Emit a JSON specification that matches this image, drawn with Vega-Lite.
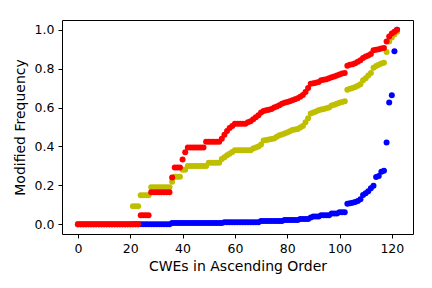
{
"$schema": "https://vega.github.io/schema/vega-lite/v6.json",
"width": 351, "height": 214,
"autosize": {"type": "none"},
"padding": {"left": 62, "top": 20, "right": 19, "bottom": 54},
"background": "white",
"data": {"values": [
{"i":0,"r":0,"y":0,"b":0},{"i":1,"r":0,"y":0,"b":0},{"i":2,"r":0,"y":0,"b":0},{"i":3,"r":0,"y":0,"b":0},{"i":4,"r":0,"y":0,"b":0},
{"i":5,"r":0,"y":0,"b":0},{"i":6,"r":0,"y":0,"b":0},{"i":7,"r":0,"y":0,"b":0},{"i":8,"r":0,"y":0,"b":0},{"i":9,"r":0,"y":0,"b":0},
{"i":10,"r":0,"y":0,"b":0},{"i":11,"r":0,"y":0,"b":0},{"i":12,"r":0,"y":0,"b":0},{"i":13,"r":0,"y":0,"b":0},{"i":14,"r":0,"y":0,"b":0},
{"i":15,"r":0,"y":0,"b":0},{"i":16,"r":0,"y":0,"b":0},{"i":17,"r":0,"y":0,"b":0},{"i":18,"r":0,"y":0,"b":0},{"i":19,"r":0,"y":0,"b":0},
{"i":20,"r":0,"y":0,"b":0},{"i":21,"r":0,"y":0.092,"b":0},{"i":22,"r":0,"y":0.092,"b":0},{"i":23,"r":0,"y":0.092,"b":0},
{"i":24,"r":0.047,"y":0.149,"b":0},{"i":25,"r":0.047,"y":0.149,"b":0},{"i":26,"r":0.047,"y":0.149,"b":0},{"i":27,"r":0.047,"y":0.149,"b":0},
{"i":28,"r":0.165,"y":0.19,"b":0},{"i":29,"r":0.165,"y":0.19,"b":0},{"i":30,"r":0.165,"y":0.19,"b":0},{"i":31,"r":0.165,"y":0.19,"b":0},
{"i":32,"r":0.165,"y":0.19,"b":0},{"i":33,"r":0.165,"y":0.19,"b":0},{"i":34,"r":0.165,"y":0.19,"b":0},{"i":35,"r":0.165,"y":0.19,"b":0},
{"i":36,"r":0.24,"y":0.218,"b":0.006},{"i":37,"r":0.292,"y":0.244,"b":0.006},{"i":38,"r":0.292,"y":0.244,"b":0.006},{"i":39,"r":0.292,"y":0.244,"b":0.006},
{"i":40,"r":0.333,"y":0.28,"b":0.006},{"i":41,"r":0.37,"y":0.28,"b":0.006},
{"i":42,"r":0.395,"y":0.3,"b":0.006},{"i":43,"r":0.395,"y":0.3,"b":0.006},{"i":44,"r":0.395,"y":0.3,"b":0.006},{"i":45,"r":0.395,"y":0.3,"b":0.006},
{"i":46,"r":0.395,"y":0.3,"b":0.006},{"i":47,"r":0.395,"y":0.3,"b":0.006},{"i":48,"r":0.395,"y":0.3,"b":0.006},{"i":49,"r":0.424,"y":0.3,"b":0.006},
{"i":50,"r":0.424,"y":0.316,"b":0.006},{"i":51,"r":0.424,"y":0.316,"b":0.006},{"i":52,"r":0.424,"y":0.316,"b":0.006},{"i":53,"r":0.424,"y":0.316,"b":0.006},
{"i":54,"r":0.424,"y":0.316,"b":0.006},{"i":55,"r":0.44,"y":0.335,"b":0.006},{"i":56,"r":0.46,"y":0.345,"b":0.011},{"i":57,"r":0.48,"y":0.355,"b":0.011},
{"i":58,"r":0.495,"y":0.363,"b":0.011},{"i":59,"r":0.505,"y":0.372,"b":0.011},
{"i":60,"r":0.517,"y":0.381,"b":0.011},{"i":61,"r":0.517,"y":0.381,"b":0.011},{"i":62,"r":0.517,"y":0.381,"b":0.011},{"i":63,"r":0.517,"y":0.381,"b":0.011},
{"i":64,"r":0.517,"y":0.381,"b":0.011},{"i":65,"r":0.525,"y":0.381,"b":0.011},{"i":66,"r":0.53,"y":0.381,"b":0.011},{"i":67,"r":0.54,"y":0.39,"b":0.011},
{"i":68,"r":0.55,"y":0.395,"b":0.011},{"i":69,"r":0.56,"y":0.4,"b":0.011},
{"i":70,"r":0.575,"y":0.41,"b":0.017},{"i":71,"r":0.582,"y":0.43,"b":0.017},{"i":72,"r":0.586,"y":0.433,"b":0.017},{"i":73,"r":0.589,"y":0.436,"b":0.017},
{"i":74,"r":0.592,"y":0.438,"b":0.017},{"i":75,"r":0.6,"y":0.441,"b":0.017},{"i":76,"r":0.605,"y":0.45,"b":0.017},{"i":77,"r":0.612,"y":0.458,"b":0.017},
{"i":78,"r":0.62,"y":0.462,"b":0.017},{"i":79,"r":0.625,"y":0.466,"b":0.022},
{"i":80,"r":0.628,"y":0.472,"b":0.022},{"i":81,"r":0.632,"y":0.478,"b":0.022},{"i":82,"r":0.638,"y":0.484,"b":0.022},{"i":83,"r":0.643,"y":0.487,"b":0.022},
{"i":84,"r":0.648,"y":0.49,"b":0.022},{"i":85,"r":0.655,"y":0.497,"b":0.027},{"i":86,"r":0.665,"y":0.505,"b":0.027},{"i":87,"r":0.68,"y":0.525,"b":0.027},
{"i":88,"r":0.7,"y":0.545,"b":0.027},{"i":89,"r":0.722,"y":0.569,"b":0.035},
{"i":90,"r":0.725,"y":0.575,"b":0.04},{"i":91,"r":0.728,"y":0.58,"b":0.04},{"i":92,"r":0.731,"y":0.586,"b":0.04},{"i":93,"r":0.74,"y":0.59,"b":0.046},
{"i":94,"r":0.743,"y":0.593,"b":0.046},{"i":95,"r":0.746,"y":0.596,"b":0.046},{"i":96,"r":0.75,"y":0.6,"b":0.046},{"i":97,"r":0.756,"y":0.61,"b":0.055},
{"i":98,"r":0.76,"y":0.615,"b":0.055},{"i":99,"r":0.765,"y":0.62,"b":0.055},
{"i":100,"r":0.77,"y":0.625,"b":0.062},{"i":101,"r":0.775,"y":0.628,"b":0.062},{"i":102,"r":0.778,"y":0.632,"b":0.062},{"i":103,"r":0.815,"y":0.692,"b":0.105},
{"i":104,"r":0.82,"y":0.697,"b":0.108},{"i":105,"r":0.823,"y":0.7,"b":0.11},{"i":106,"r":0.828,"y":0.705,"b":0.115},{"i":107,"r":0.835,"y":0.712,"b":0.12},
{"i":108,"r":0.843,"y":0.72,"b":0.128},{"i":109,"r":0.855,"y":0.74,"b":0.15},
{"i":110,"r":0.862,"y":0.75,"b":0.16},{"i":111,"r":0.868,"y":0.765,"b":0.17},{"i":112,"r":0.875,"y":0.778,"b":0.185},{"i":113,"r":0.895,"y":0.805,"b":0.198},
{"i":114,"r":0.897,"y":0.813,"b":0.243},{"i":115,"r":0.9,"y":0.82,"b":0.248},{"i":116,"r":0.903,"y":0.826,"b":0.27},{"i":117,"r":0.906,"y":0.83,"b":0.275},
{"i":118,"r":0.94,"y":0.885,"b":0.42},{"i":119,"r":0.965,"y":0.94,"b":0.626},
{"i":120,"r":0.98,"y":0.96,"b":0.663},{"i":121,"r":0.99,"y":0.975,"b":0.889},{"i":122,"r":1.0,"y":0.99,"b":1.0}
]},
"encoding": {
  "x": {"field": "i", "type": "quantitative",
        "scale": {"domain": [-6.1, 128.1], "nice": false, "zero": false},
        "axis": {"values": [0, 20, 40, 60, 80, 100, 120], "title": "CWEs in Ascending Order", "titlePadding": 5}}
},
"layer": [
  {"mark": {"type": "circle", "size": 36, "color": "#0000FF", "opacity": 1},
   "encoding": {"y": {"field": "b", "type": "quantitative",
     "scale": {"domain": [-0.05, 1.05], "nice": false, "zero": false},
     "axis": {"values": [0, 0.2, 0.4, 0.6, 0.8, 1.0], "format": ".1f", "title": "Modified Frequency", "titlePadding": 7}}}},
  {"mark": {"type": "circle", "size": 36, "color": "#BFBF00", "opacity": 1},
   "encoding": {"y": {"field": "y", "type": "quantitative",
     "scale": {"domain": [-0.05, 1.05], "nice": false, "zero": false},
     "axis": {"values": [0, 0.2, 0.4, 0.6, 0.8, 1.0], "format": ".1f", "title": "Modified Frequency", "titlePadding": 7}}}},
  {"mark": {"type": "circle", "size": 36, "color": "#FF0000", "opacity": 1},
   "encoding": {"y": {"field": "r", "type": "quantitative",
     "scale": {"domain": [-0.05, 1.05], "nice": false, "zero": false},
     "axis": {"values": [0, 0.2, 0.4, 0.6, 0.8, 1.0], "format": ".1f", "title": "Modified Frequency", "titlePadding": 7}}}}
],
"config": {
  "view": {"stroke": "black", "strokeWidth": 1},
  "axis": {
    "labelFont": "DejaVu Sans", "titleFont": "DejaVu Sans",
    "labelFontSize": 12.5, "titleFontSize": 14, "titleFontWeight": "normal",
    "labelColor": "black", "titleColor": "black",
    "tickColor": "black", "tickSize": 4, "tickWidth": 1, "labelPadding": 4,
    "domain": false, "grid": false
  }
}
}
